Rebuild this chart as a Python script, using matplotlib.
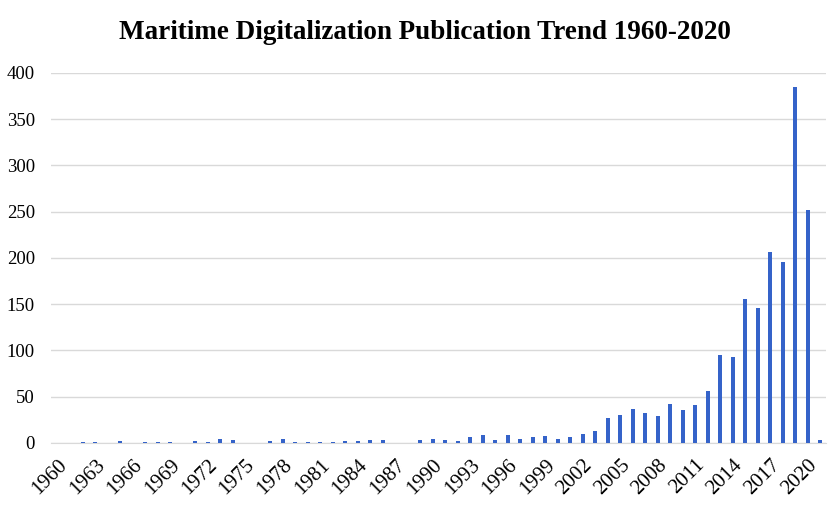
import numpy as np
import matplotlib
matplotlib.use('Agg')
import matplotlib.pyplot as plt

# Publications per year
years = list(range(1960, 2022))
counts = [0, 0, 1, 1, 0, 2, 0, 1, 1, 1,
          0, 2, 1, 4, 3, 0, 0, 2, 4, 1,
          1, 1, 1, 2, 2, 3, 3, 0, 0, 3,
          4, 3, 2, 6, 8, 3, 9, 4, 6, 7,
          4, 6, 10, 13, 27, 30, 37, 32, 29, 42,
          35, 41, 56, 95, 93, 156, 146, 206, 196, 385,
          252, 3]
label_years = list(range(1960, 2021, 3))

plt.rcParams['font.family'] = ['Liberation Serif', 'DejaVu Serif']

fig = plt.figure(figsize=(8.36, 5.21), dpi=100)
ax = fig.add_axes([0.0616, 0.150, 0.927, 0.710])

x = np.arange(len(years))
ax.bar(x, counts, width=0.31, color='#3563C9', zorder=3)

ax.set_xlim(-0.5, len(years) - 0.5)
ax.set_ylim(0, 400)
ax.set_yticks(range(0, 401, 50))
ax.yaxis.grid(True, color='#d9d9d9', linewidth=1, zorder=0)

tick_pos = [years.index(y) for y in label_years]
ax.set_xticks(tick_pos)
ax.set_xticklabels([str(y) for y in label_years], rotation=45, ha='right',
                   rotation_mode='anchor', fontsize=15)
ax.tick_params(axis='both', length=0)
ax.tick_params(axis='y', pad=12, labelsize=13.5)
ax.tick_params(axis='x', pad=9)

for s in ['top', 'right', 'left']:
    ax.spines[s].set_visible(False)
ax.spines['bottom'].set_color('#d9d9d9')

fig.text(0.508, 0.937, 'Maritime Digitalization Publication Trend 1960-2020',
         ha='center', va='center', fontsize=19.5, fontweight='bold')

fig.savefig('out.png', dpi=100)
